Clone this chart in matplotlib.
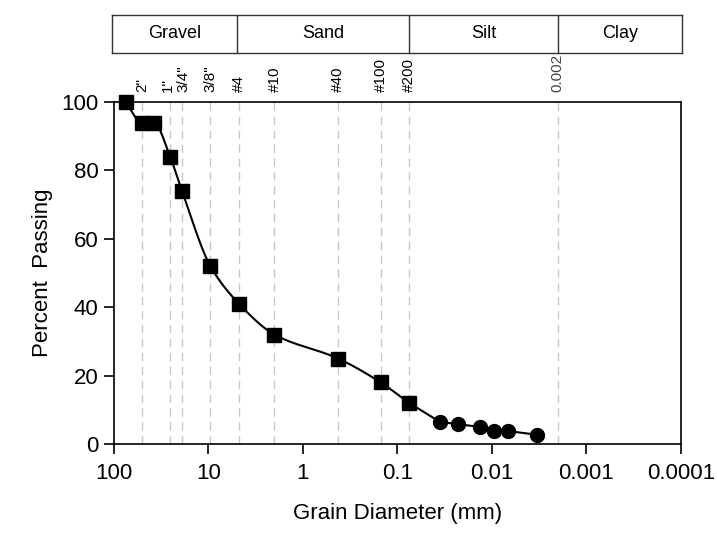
import numpy as np
import matplotlib
matplotlib.use("Agg")
import matplotlib.pyplot as plt
from matplotlib.transforms import offset_copy

plt.rcParams['font.family'] = ['Liberation Sans', 'DejaVu Sans']

# Sieve analysis data (grain diameter in mm, percent passing)
sieve_d = [75.0, 50.8, 38.1, 25.4, 19.05, 9.525, 4.75, 2.0, 0.425, 0.15, 0.075]
sieve_p = [100, 94, 94, 84, 74, 52, 41, 32, 25, 18, 12]

# Hydrometer data
hydro_d = [0.0356, 0.023, 0.0133, 0.0094, 0.0068, 0.0033]
hydro_p = [6.5, 5.8, 5.0, 3.9, 3.8, 2.7]

# Reference sieve lines
ref_d = [50.8, 25.4, 19.05, 9.525, 4.75, 2.0, 0.425, 0.15, 0.075, 0.002]
ref_labels = ['2"', '1"', '3/4"', '3/8"', '#4', '#10', '#40', '#100', '#200', '0.002']

# Soil classes (boundaries)
class_names = ['Gravel', 'Sand', 'Silt', 'Clay']
class_bounds = [100, 4.75, 0.075, 0.002, 0.0001]

x_ticks = [100, 10, 1, 0.1, 0.01, 0.001, 0.0001]
x_ticklabels = ['100', '10', '1', '0.1', '0.01', '0.001', '0.0001']
y_ticks = [0, 20, 40, 60, 80, 100]


def pchip(x, y, xn):
    x = np.asarray(x, float); y = np.asarray(y, float)
    h = np.diff(x); delta = np.diff(y) / h
    n = len(x); d = np.zeros(n)
    for k in range(1, n - 1):
        if delta[k - 1] * delta[k] <= 0:
            d[k] = 0
        else:
            w1 = 2 * h[k] + h[k - 1]; w2 = h[k] + 2 * h[k - 1]
            d[k] = (w1 + w2) / (w1 / delta[k - 1] + w2 / delta[k])
    d[0] = delta[0]; d[-1] = delta[-1]
    out = np.empty_like(xn)
    for i, xv in enumerate(xn):
        k = np.clip(np.searchsorted(x, xv) - 1, 0, n - 2)
        t = (xv - x[k]) / h[k]
        h00 = 2*t**3 - 3*t**2 + 1; h10 = t**3 - 2*t**2 + t
        h01 = -2*t**3 + 3*t**2; h11 = t**3 - t**2
        out[i] = h00*y[k] + h10*h[k]*d[k] + h01*y[k+1] + h11*h[k]*d[k+1]
    return out


fig = plt.figure(figsize=(7.17, 5.33), dpi=100)
ax = fig.add_axes([114/717, 1-444/533, (680.7-114)/717, (444-102)/533])

ax.set_xscale('log')
ax.set_xlim(100, 0.0001)
ax.set_ylim(0, 100)

# dashed reference lines
for d in ref_d:
    ax.plot([d, d], [0, 100], color='#c8c8c8', lw=1.0, ls=(0, (6, 4)), zorder=1)

# smooth curve through sieve data (in log space, increasing x)
lx = np.log10(sieve_d)[::-1]
ly = np.array(sieve_p, float)[::-1]
xs = np.linspace(lx[0], lx[-1], 400)
ys = pchip(lx, ly, xs)
ax.plot(10**xs, ys, color='black', lw=1.5, zorder=2)
# straight line through hydrometer data
ax.plot([sieve_d[-1]] + hydro_d, [sieve_p[-1]] + hydro_p, color='black', lw=1.5, zorder=2)

ax.plot(sieve_d, sieve_p, ls='none', marker='s', ms=9.5, color='black', zorder=3, clip_on=False)
ax.plot(hydro_d, hydro_p, ls='none', marker='o', ms=10, color='black', zorder=3, clip_on=False)

ax.set_xticks(x_ticks)
ax.set_xticklabels(x_ticklabels)
ax.xaxis.set_minor_locator(matplotlib.ticker.NullLocator())
ax.set_yticks(y_ticks)
ax.tick_params(axis='both', direction='out', length=7, width=1.2, labelsize=16, pad=4)
ax.tick_params(axis='x', pad=7)
for s in ax.spines.values():
    s.set_linewidth(1.2)

ax.set_xlabel('Grain Diameter (mm)', fontsize=16, labelpad=13)
ax.set_ylabel('Percent  Passing', fontsize=16, labelpad=6)

# sieve labels on top
nudges = {'1"': -2.0, '3/4"': 1.5}
for d, lab in zip(ref_d, ref_labels):
    col = '#444444' if lab == '0.002' else 'black'
    tr = offset_copy(ax.transData, fig=fig, x=nudges.get(lab, 0.0), y=0, units='dots')
    ax.text(d, 103.0, lab, rotation=90, ha='center', va='bottom', fontsize=11,
            color=col, clip_on=False, transform=tr)

# soil class band
bax = fig.add_axes([111.7/717, 1-52.7/533, (681.7-111.7)/717, (52.7-15)/533])
bax.set_xscale('log')
bax.set_xlim(100, 0.0001)
bax.set_ylim(0, 1)
bax.set_xticks([]); bax.set_yticks([])
bax.xaxis.set_minor_locator(matplotlib.ticker.NullLocator())
for s in bax.spines.values():
    s.set_linewidth(1.0)
    s.set_color('#333333')
for b in class_bounds[1:-1]:
    bax.plot([b, b], [0, 1], color='#333333', lw=1.0)
for i, name in enumerate(class_names):
    xm = np.sqrt(class_bounds[i] * class_bounds[i+1])
    bax.text(xm, 0.5, name, ha='center', va='center', fontsize=13)

fig.savefig('out.png', dpi=100)
